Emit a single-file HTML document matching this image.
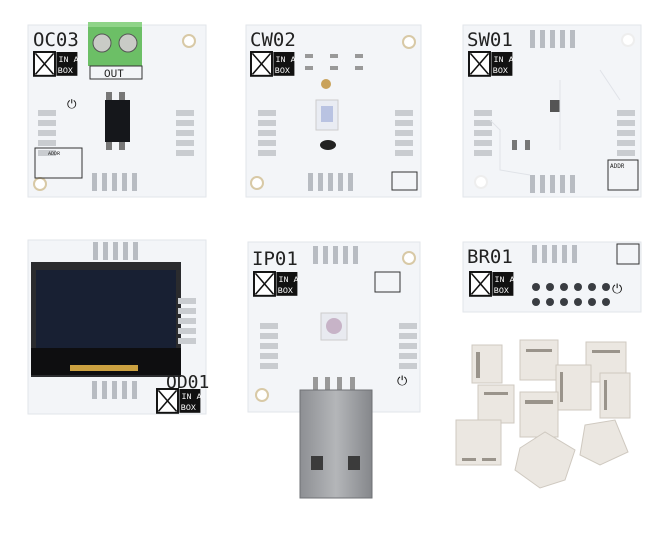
<!DOCTYPE html>
<html><head><meta charset="utf-8"><style>
html,body{margin:0;padding:0;background:#fff;}
svg{display:block;}
text{font-family:"Liberation Mono",monospace;}
.t{font-family:"DejaVu Sans Mono","Liberation Mono",monospace;fill:#222;}
.b{fill:#f3f5f8;stroke:#e2e5ea;stroke-width:1;}
.pad{fill:#c9ccd0;}
.vp{fill:#b8bcc2;}
.cn{fill:#ebe7e1;stroke:#cfc9c0;stroke-width:1;}
.sl{fill:#9a948b;}
</style></head><body>
<svg width="662" height="541" viewBox="0 0 662 541" xmlns="http://www.w3.org/2000/svg">
<defs>
<g id="logo0">
<rect x="0" y="0" width="15" height="17" fill="#fff" stroke="#111" stroke-width="1.4"/>
<line x1="1" y1="1" x2="14" y2="16" stroke="#111" stroke-width="1.1"/>
<line x1="14" y1="1" x2="1" y2="16" stroke="#111" stroke-width="1.1"/>
<rect x="16" y="0" width="15" height="17" fill="#111"/>
<text x="17.5" y="7" font-size="6" fill="#fff" font-family="Liberation Sans,sans-serif">IN A</text>
<text x="17" y="15" font-size="6" fill="#fff" font-family="Liberation Sans,sans-serif">BOX</text>
</g>
<g id="logo"><use href="#logo0" transform="scale(1.4)"/></g>
<g id="lp"><rect x="0" y="0" width="18" height="6" class="pad"/><rect x="0" y="10" width="18" height="6" class="pad"/><rect x="0" y="20" width="18" height="6" class="pad"/><rect x="0" y="30" width="18" height="6" class="pad"/><rect x="0" y="40" width="18" height="6" class="pad"/></g>
<g id="vp"><rect x="0" y="0" width="5" height="18" class="vp"/><rect x="10" y="0" width="5" height="18" class="vp"/><rect x="20" y="0" width="5" height="18" class="vp"/><rect x="30" y="0" width="5" height="18" class="vp"/><rect x="40" y="0" width="5" height="18" class="vp"/></g>
<linearGradient id="usb" x1="0" x2="1"><stop offset="0" stop-color="#8d8f93"/><stop offset="0.5" stop-color="#b4b6b9"/><stop offset="1" stop-color="#85878b"/></linearGradient>
</defs>

<!-- OC03 -->
<rect x="28" y="25" width="178" height="172" class="b"/>
<rect x="88" y="22" width="54" height="44" fill="#6cbf66"/>
<rect x="88" y="22" width="54" height="5" fill="#8fd488"/>
<circle cx="102" cy="43" r="9" fill="#c9cbc6" stroke="#555" stroke-width="1"/>
<circle cx="128" cy="43" r="9" fill="#c9cbc6" stroke="#555" stroke-width="1"/>
<rect x="90" y="66" width="52" height="13" fill="none" stroke="#333" stroke-width="1"/>
<text x="104" y="77" font-size="11" fill="#222">OUT</text>
<text x="33" y="46" font-size="19" class="t">OC03</text>
<use href="#logo" x="34" y="52"/>
<circle cx="189" cy="41" r="6" fill="#fff" stroke="#d8c9a6" stroke-width="2"/>
<circle cx="40" cy="184" r="6" fill="#fff" stroke="#d8c9a6" stroke-width="2"/>
<rect x="105" y="100" width="25" height="42" fill="#15171b"/>
<rect x="106" y="92" width="6" height="8" fill="#777"/><rect x="119" y="92" width="6" height="8" fill="#777"/>
<rect x="106" y="142" width="6" height="8" fill="#777"/><rect x="119" y="142" width="6" height="8" fill="#777"/>
<text x="67" y="108" font-size="12" fill="#111">⏻</text>
<use href="#lp" x="38" y="110"/><use href="#lp" x="176" y="110"/>
<rect x="35" y="148" width="47" height="30" fill="none" stroke="#333"/>
<text x="48" y="155" font-size="5" fill="#222">ADDR</text>
<use href="#vp" x="92" y="173"/>

<!-- CW02 -->
<rect x="246" y="25" width="175" height="172" class="b"/>
<text x="250" y="46" font-size="19" class="t">CW02</text>
<use href="#logo" x="251" y="52"/>
<circle cx="409" cy="42" r="6" fill="#fff" stroke="#d8c9a6" stroke-width="2"/>
<circle cx="257" cy="183" r="6" fill="#fff" stroke="#d8c9a6" stroke-width="2"/>
<rect x="305" y="54" width="8" height="4" fill="#999"/><rect x="330" y="54" width="8" height="4" fill="#999"/><rect x="355" y="54" width="8" height="4" fill="#999"/>
<rect x="305" y="66" width="8" height="4" fill="#999"/><rect x="330" y="66" width="8" height="4" fill="#999"/><rect x="355" y="66" width="8" height="4" fill="#999"/>
<circle cx="326" cy="84" r="5" fill="#c9a25a"/>
<rect x="316" y="100" width="22" height="30" fill="#e9ecf3" stroke="#ccc"/>
<rect x="321" y="106" width="12" height="16" fill="#b9c3e2"/>
<ellipse cx="328" cy="145" rx="8" ry="5" fill="#222"/>
<use href="#lp" x="258" y="110"/><use href="#lp" x="395" y="110"/>
<use href="#vp" x="308" y="173"/>
<rect x="392" y="172" width="25" height="18" fill="none" stroke="#333"/>

<!-- SW01 -->
<rect x="463" y="25" width="178" height="172" class="b"/>
<text x="467" y="46" font-size="19" class="t">SW01</text>
<use href="#logo" x="469" y="52"/>
<circle cx="628" cy="40" r="6" fill="#fff" stroke="#eee" stroke-width="2"/>
<circle cx="481" cy="182" r="6" fill="#fff" stroke="#eee" stroke-width="2"/>
<use href="#vp" x="530" y="30"/><use href="#vp" x="530" y="175"/>
<use href="#lp" x="474" y="110"/><use href="#lp" x="617" y="110"/>
<rect x="550" y="100" width="10" height="12" fill="#555"/>
<rect x="512" y="140" width="5" height="10" fill="#777"/><rect x="525" y="140" width="5" height="10" fill="#777"/>
<rect x="608" y="160" width="30" height="30" fill="none" stroke="#333"/>
<text x="610" y="168" font-size="6" fill="#222">ADDR</text>
<path d="M490 120 L500 130 L500 170 L530 175 M560 80 L560 150 M600 70 L620 100" stroke="#e0e3e8" fill="none"/>

<!-- OD01 -->
<rect x="28" y="240" width="178" height="174" class="b"/>
<use href="#vp" x="93" y="242"/>
<rect x="31" y="262" width="150" height="115" fill="#2a2b2e"/>
<rect x="36" y="270" width="140" height="78" fill="#182033"/>
<rect x="31" y="348" width="150" height="27" fill="#0e0e10"/>
<rect x="70" y="365" width="68" height="6" fill="#caa040"/>
<use href="#lp" x="178" y="298"/>
<text x="166" y="388" font-size="18" class="t">OD01</text>
<use href="#logo" x="157" y="389"/>
<use href="#vp" x="92" y="381"/>

<!-- IP01 -->
<rect x="248" y="242" width="172" height="170" class="b"/>
<text x="252" y="265" font-size="19" class="t">IP01</text>
<use href="#logo" x="254" y="272"/>
<circle cx="409" cy="258" r="6" fill="#fff" stroke="#d8c9a6" stroke-width="2"/>
<circle cx="262" cy="395" r="6" fill="#fff" stroke="#d8c9a6" stroke-width="2"/>
<use href="#vp" x="313" y="246"/>
<use href="#lp" x="260" y="323"/><use href="#lp" x="399" y="323"/>
<rect x="375" y="272" width="25" height="20" fill="none" stroke="#333"/>
<rect x="321" y="313" width="26" height="27" fill="#e8eaf0" stroke="#ccc"/>
<circle cx="334" cy="326" r="8" fill="#c7b3c7"/>
<text x="397" y="385" font-size="13" fill="#111">⏻</text>
<rect x="313" y="377" width="5" height="14" fill="#999"/><rect x="325" y="377" width="5" height="14" fill="#999"/><rect x="337" y="377" width="5" height="14" fill="#999"/><rect x="350" y="377" width="5" height="14" fill="#999"/>
<rect x="300" y="390" width="72" height="108" fill="url(#usb)" stroke="#6f7175"/>
<rect x="311" y="456" width="12" height="14" fill="#3b3b3b"/><rect x="348" y="456" width="12" height="14" fill="#3b3b3b"/>

<!-- BR01 -->
<rect x="463" y="242" width="178" height="70" class="b"/>
<text x="467" y="263" font-size="19" class="t">BR01</text>
<use href="#logo" x="470" y="272"/>
<use href="#vp" x="532" y="245"/>
<rect x="617" y="244" width="22" height="20" fill="none" stroke="#333"/>
<text x="612" y="293" font-size="13" fill="#111">⏻</text>
<g fill="#3a3d42">
<circle cx="536" cy="287" r="4"/><circle cx="550" cy="287" r="4"/><circle cx="564" cy="287" r="4"/><circle cx="578" cy="287" r="4"/><circle cx="592" cy="287" r="4"/><circle cx="606" cy="287" r="4"/>
<circle cx="536" cy="302" r="4"/><circle cx="550" cy="302" r="4"/><circle cx="564" cy="302" r="4"/><circle cx="578" cy="302" r="4"/><circle cx="592" cy="302" r="4"/><circle cx="606" cy="302" r="4"/>
</g>

<!-- connectors -->
<rect x="520" y="340" width="38" height="40" class="cn"/><rect x="526" y="349" width="26" height="3" class="sl"/>
<rect x="586" y="342" width="40" height="40" class="cn"/><rect x="592" y="350" width="28" height="3" class="sl"/>
<rect x="472" y="345" width="30" height="38" class="cn"/><rect x="476" y="352" width="4" height="26" class="sl"/>
<rect x="478" y="385" width="36" height="38" class="cn"/><rect x="484" y="392" width="24" height="3" class="sl"/>
<rect x="556" y="365" width="35" height="45" class="cn"/><rect x="560" y="372" width="3" height="30" class="sl"/>
<rect x="600" y="373" width="30" height="45" class="cn"/><rect x="604" y="380" width="3" height="30" class="sl"/>
<rect x="520" y="392" width="38" height="45" class="cn"/><rect x="525" y="400" width="28" height="4" class="sl"/>
<rect x="456" y="420" width="45" height="45" class="cn"/><rect x="462" y="458" width="14" height="3" class="sl"/><rect x="482" y="458" width="14" height="3" class="sl"/>
<polygon points="520,448 545,432 575,450 565,480 540,488 515,470" class="cn"/>
<polygon points="585,425 615,420 628,452 600,465 580,455" class="cn"/>
</svg>
</body></html>
